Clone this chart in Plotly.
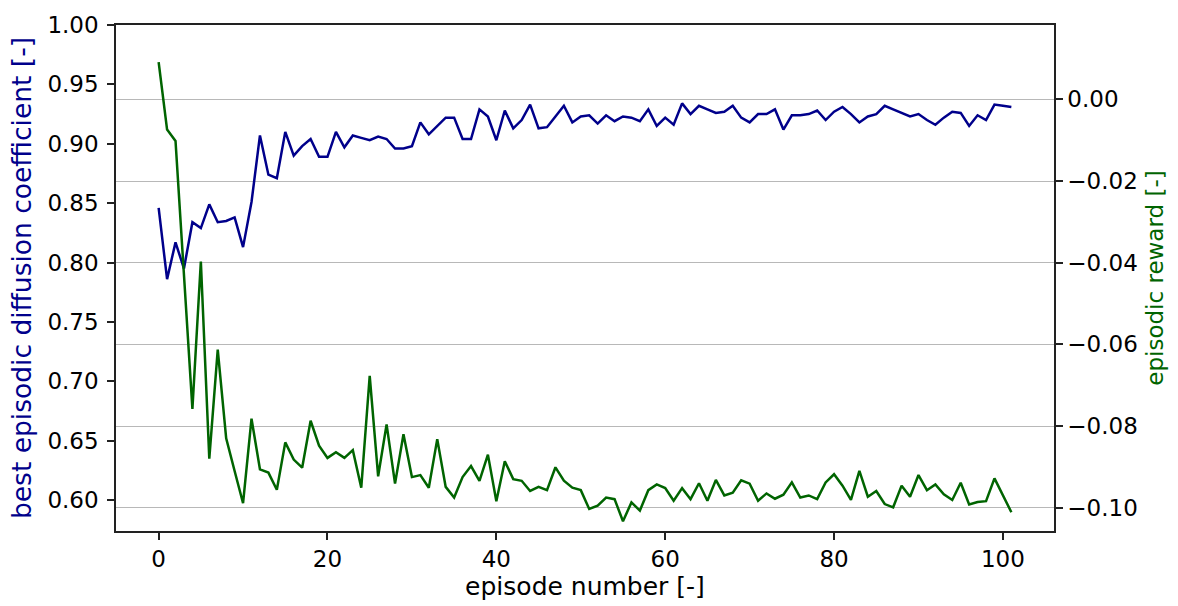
import plotly.graph_objects as go

# Training history: best diffusion coefficient per episode and episodic reward
episodes = list(range(102))

best_diffusion = [
    0.846, 0.786, 0.817, 0.795, 0.834, 0.829, 0.849, 0.834, 0.835, 0.838,
    0.813, 0.851, 0.907, 0.874, 0.871, 0.910, 0.890, 0.898, 0.904, 0.889,
    0.889, 0.910, 0.897, 0.907, 0.905, 0.903, 0.906, 0.904, 0.896, 0.896,
    0.898, 0.918, 0.908, 0.915, 0.922, 0.922, 0.904, 0.904, 0.929, 0.923,
    0.903, 0.928, 0.913, 0.920, 0.933, 0.913, 0.914, 0.923, 0.932, 0.918,
    0.923, 0.924, 0.917, 0.924, 0.919, 0.923, 0.922, 0.919, 0.929, 0.915,
    0.922, 0.916, 0.934, 0.925, 0.932, 0.929, 0.926, 0.927, 0.932, 0.922,
    0.918, 0.925, 0.925, 0.929, 0.912, 0.924, 0.924, 0.925, 0.928, 0.920,
    0.927, 0.931, 0.925, 0.918, 0.923, 0.925, 0.932, 0.929, 0.926, 0.923,
    0.925, 0.920, 0.916, 0.922, 0.927, 0.926, 0.915, 0.924, 0.920, 0.933,
    0.932, 0.931,
]

episodic_reward = [
    0.0091, -0.0074, -0.0102, -0.0418, -0.0758, -0.0397, -0.0880, -0.0613, -0.0830, -0.0910,
    -0.0989, -0.0782, -0.0906, -0.0914, -0.0956, -0.0840, -0.0882, -0.0902, -0.0787, -0.0848,
    -0.0878, -0.0864, -0.0878, -0.0859, -0.0951, -0.0677, -0.0923, -0.0796, -0.0941, -0.0820,
    -0.0925, -0.0920, -0.0951, -0.0832, -0.0949, -0.0975, -0.0925, -0.0898, -0.0934, -0.0870,
    -0.0984, -0.0886, -0.0930, -0.0934, -0.0959, -0.0949, -0.0957, -0.0901, -0.0934, -0.0951,
    -0.0957, -0.1003, -0.0995, -0.0975, -0.0979, -0.1033, -0.0987, -0.1007, -0.0957, -0.0943,
    -0.0952, -0.0983, -0.0952, -0.0979, -0.0940, -0.0983, -0.0932, -0.0970, -0.0963, -0.0933,
    -0.0941, -0.0983, -0.0965, -0.0978, -0.0968, -0.0938, -0.0975, -0.0970, -0.0979, -0.0938,
    -0.0918, -0.0946, -0.0981, -0.0910, -0.0973, -0.0959, -0.0991, -0.0999, -0.0946, -0.0973,
    -0.0920, -0.0957, -0.0943, -0.0967, -0.0981, -0.0939, -0.0992, -0.0986, -0.0984, -0.0928,
    -0.0971, -0.1011,
]

x_ticks = [0, 20, 40, 60, 80, 100]
left_ticks = [0.60, 0.65, 0.70, 0.75, 0.80, 0.85, 0.90, 0.95, 1.00]
right_ticks = [-0.10, -0.08, -0.06, -0.04, -0.02, 0.00]

FONT = "DejaVu Sans"
BLUE = "#00008b"
GREEN = "#006400"
AXIS = "#222222"

fig = go.Figure()
fig.add_trace(go.Scatter(
    x=episodes, y=best_diffusion, mode="lines",
    line=dict(color=BLUE, width=2.5), yaxis="y", showlegend=False,
))
fig.add_trace(go.Scatter(
    x=episodes, y=episodic_reward, mode="lines",
    line=dict(color=GREEN, width=2.5), yaxis="y2", showlegend=False,
))

fig.update_layout(
    width=1178, height=606,
    margin=dict(l=116, r=124, t=21, b=72),
    paper_bgcolor="white", plot_bgcolor="white",
    font=dict(family=FONT, size=23, color="black"),
    xaxis=dict(
        range=[-5.05, 106.05], tickvals=x_ticks,
        showgrid=False, zeroline=False,
        showline=True, linecolor=AXIS, linewidth=1.5, mirror=True,
        ticks="outside", ticklen=7, tickwidth=1.5, tickcolor=AXIS,
        title=dict(text="episode number [-]", font=dict(size=25), standoff=4),
    ),
    yaxis=dict(
        range=[0.574, 1.0], tickvals=left_ticks, tickformat=".2f",
        showgrid=False, zeroline=False,
        showline=True, linecolor=AXIS, linewidth=1.5,
        ticks="outside", ticklen=7, tickwidth=1.5, tickcolor=AXIS,
        ticklabelstandoff=4,
        title=dict(text="best episodic diffusion coefficient [-]",
                   font=dict(size=26.5, color=BLUE), standoff=8),
    ),
    yaxis2=dict(
        range=[-0.1057, 0.0182], tickvals=right_ticks, tickformat=".2f",
        overlaying="y", side="right",
        showgrid=True, gridcolor="#b8b8b8", gridwidth=1.2, zeroline=False,
        showline=True, linecolor=AXIS, linewidth=1.5,
        ticks="outside", ticklen=7, tickwidth=1.5, tickcolor=AXIS,
        title=dict(text="episodic reward [-]",
                   font=dict(size=23, color=GREEN), standoff=10),
    ),
)

fig.write_html("out.html")
